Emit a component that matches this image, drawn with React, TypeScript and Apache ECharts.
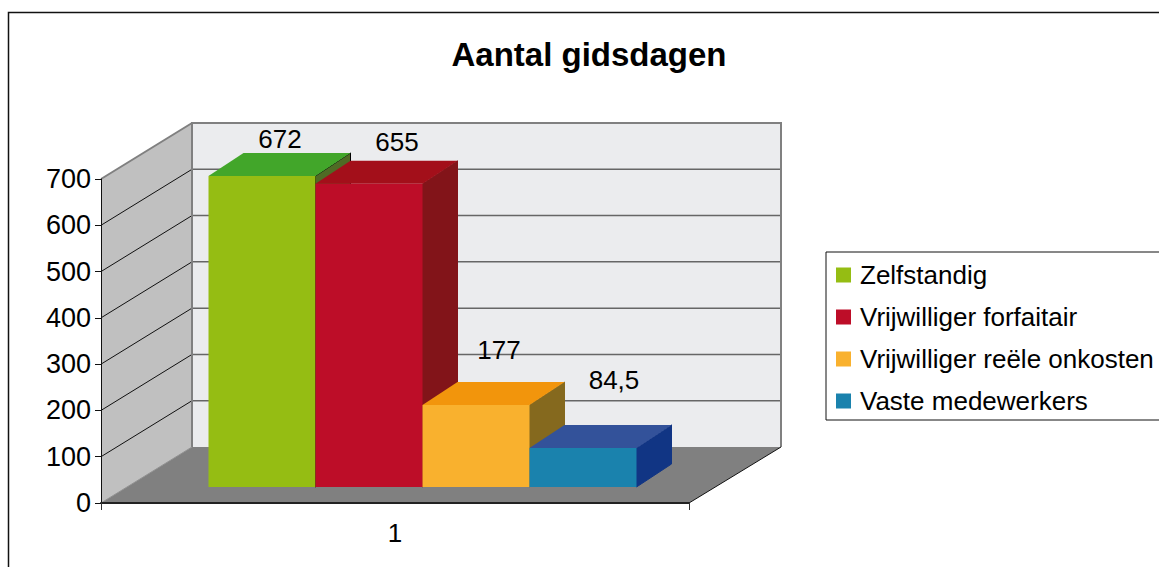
import React, { useEffect, useRef } from "react";
import * as echarts from "echarts";

const categories = ["1"];
const seriesNames = ["Zelfstandig", "Vrijwilliger forfaitair", "Vrijwilliger reële onkosten", "Vaste medewerkers"];
const seriesValues = [672, 655, 177, 84.5];
const valueLabels = ["672", "655", "177", "84,5"];
const yTicks = [0, 100, 200, 300, 400, 500, 600, 700];

const frontColors = ["#95bd13", "#bd0d28", "#f9b12e", "#1a82ad"];
const topColors = ["#42a62a", "#a30f1a", "#f2950c", "#33529a"];
const sideColors = ["#4f6b25", "#821419", "#85691e", "#113584"];
const sideStrokes = ["#000000", "#821419", "#85691e", "#113584"];
const labelNudgeX = [18, 28, 23, 31];
const labelNudgeY = [-14, -19, -32, -45];

const FONT = '"Liberation Sans", Arial, sans-serif';
const WALL_DX = 91, WALL_DY = -56;
const BAR_DX = 35, BAR_DY = -23;
const BAR_BASE = -16, BAR_SHIFT = 27.5, BAR_RATIO = 107 / 588;

const wallsItem = (_: any, api: any) => {
  const [x0, y0] = api.coord([0, 0]);
  const band = api.size([1, 0])[0];
  const left = x0 - band / 2;
  const right = x0 + band / 2;
  const topY = api.coord([0, yTicks[yTicks.length - 1]])[1];
  const bx = left + WALL_DX;
  const rx = right + WALL_DX + 1;
  const children: any[] = [
    { type: "polygon", shape: { points: [[left, y0], [left, topY], [bx, topY + WALL_DY], [bx, y0 + WALL_DY]] }, style: { fill: "#c0c0c0" } },
    { type: "rect", shape: { x: bx, y: topY + WALL_DY, width: rx - bx, height: y0 - topY }, style: { fill: "#ebecee" } },
    { type: "polygon", shape: { points: [[left, y0], [bx, y0 + WALL_DY], [rx, y0 + WALL_DY], [right, y0]] }, style: { fill: "#808080" } },
  ];
  yTicks.slice(1, -1).forEach((t) => {
    const y = api.coord([0, t])[1];
    children.push({ type: "line", shape: { x1: left, y1: y, x2: bx, y2: y + WALL_DY }, style: { stroke: "#111", lineWidth: 1 } });
    children.push({ type: "line", shape: { x1: bx, y1: y + WALL_DY, x2: rx, y2: y + WALL_DY }, style: { stroke: "#666", lineWidth: 1.5 } });
  });
  children.push(
    { type: "line", shape: { x1: left, y1: topY, x2: bx, y2: topY + WALL_DY }, style: { stroke: "#808080", lineWidth: 2 } },
    { type: "polyline", shape: { points: [[bx, y0 + WALL_DY], [bx, topY + WALL_DY], [rx, topY + WALL_DY], [rx, y0 + WALL_DY]] }, style: { fill: "none", stroke: "#808080", lineWidth: 2 } },
    { type: "line", shape: { x1: right, y1: y0, x2: rx, y2: y0 + WALL_DY }, style: { stroke: "#111", lineWidth: 1 } },
    { type: "line", shape: { x1: left, y1: y0, x2: bx, y2: y0 + WALL_DY }, style: { stroke: "#909090", lineWidth: 1 } }
  );
  return { type: "group", children };
};

const barItem = (i: number) => (_: any, api: any) => {
  const [cx, y0] = api.coord([0, 0]);
  const band = api.size([1, 0])[0];
  const w = band * BAR_RATIO;
  const x1 = cx + BAR_SHIFT + (i - seriesValues.length / 2) * w;
  const x2 = x1 + w;
  const base = y0 + BAR_BASE;
  const top = api.coord([0, api.value(1)])[1] + BAR_BASE;
  return {
    type: "group",
    children: [
      { type: "polygon", shape: { points: [[x2, top], [x2 + BAR_DX, top + BAR_DY], [x2 + BAR_DX, base + BAR_DY], [x2, base]] }, style: { fill: sideColors[i], stroke: sideStrokes[i], lineWidth: 1 } },
      { type: "polygon", shape: { points: [[x1, top], [x1 + BAR_DX, top + BAR_DY], [x2 + BAR_DX, top + BAR_DY], [x2, top]] }, style: { fill: topColors[i] } },
      { type: "rect", shape: { x: x1, y: top, width: w, height: base - top }, style: { fill: frontColors[i] } },
      {
        type: "text",
        z2: 10,
        style: {
          text: valueLabels[i],
          x: (x1 + x2) / 2 + labelNudgeX[i],
          y: top + BAR_DY + labelNudgeY[i],
          align: "center",
          verticalAlign: "middle",
          fill: "#000",
          font: `26px ${FONT}`,
        },
      },
    ],
  };
};

export default function App() {
  const ref = useRef<HTMLDivElement>(null);
  useEffect(() => {
    const chart = echarts.init(ref.current!, undefined, { renderer: "svg" });
    chart.setOption({
      animation: false,
      backgroundColor: "#ffffff",
      title: {
        text: "Aantal gidsdagen",
        left: 584,
        top: 33,
        textAlign: "center",
        textStyle: { fontFamily: FONT, fontSize: 33, fontWeight: "bold", color: "#000" },
      },
      grid: { left: 101, top: 179, width: 588, height: 324 },
      xAxis: {
        type: "category",
        data: categories,
        z: 5,
        axisLine: { lineStyle: { color: "#222", width: 2 } },
        axisTick: { show: true, length: 7, alignWithLabel: false, lineStyle: { color: "#333" } },
        axisLabel: { fontFamily: FONT, fontSize: 26, color: "#000", margin: 17 },
      },
      yAxis: {
        type: "value",
        min: 0,
        max: 700,
        interval: 100,
        z: 5,
        splitLine: { show: false },
        axisLine: { show: true, lineStyle: { color: "#111", width: 1 } },
        axisTick: { show: true, length: 6, lineStyle: { color: "#111" } },
        axisLabel: { fontFamily: FONT, fontSize: 27, color: "#000", margin: 10, padding: [3, 0, 0, 0] },
      },
      legend: {
        data: seriesNames,
        orient: "vertical",
        left: 826,
        top: 252,
        padding: [10, 30, 6, 10],
        itemWidth: 15,
        itemHeight: 15,
        itemGap: 16,
        icon: "rect",
        selectedMode: false,
        borderColor: "#111",
        borderWidth: 1,
        backgroundColor: "#fff",
        textStyle: { fontFamily: FONT, fontSize: 26, color: "#000", padding: [0, 0, 0, 4] },
      },
      graphic: [
        { type: "polyline", silent: true, shape: { points: [[8.5, 567], [8.5, 12.5], [1159, 12.5]] }, style: { fill: "none", stroke: "#111", lineWidth: 1.5 } },
      ],
      series: [
        { type: "custom", name: "walls", renderItem: wallsItem, data: [[0, 0]], encode: { x: 0, y: 1 }, z: 1, silent: true },
        ...seriesNames.map((name, i) => ({
          type: "custom",
          name,
          renderItem: barItem(i),
          data: [[0, seriesValues[i]]],
          encode: { x: 0, y: 1 },
          z: 2 + i,
          itemStyle: { color: frontColors[i] },
          silent: true,
        })),
      ],
    });
    return () => chart.dispose();
  }, []);
  return <div ref={ref} style={{ position: "absolute", left: 0, top: 0, width: 1159, height: 567 }} />;
}
